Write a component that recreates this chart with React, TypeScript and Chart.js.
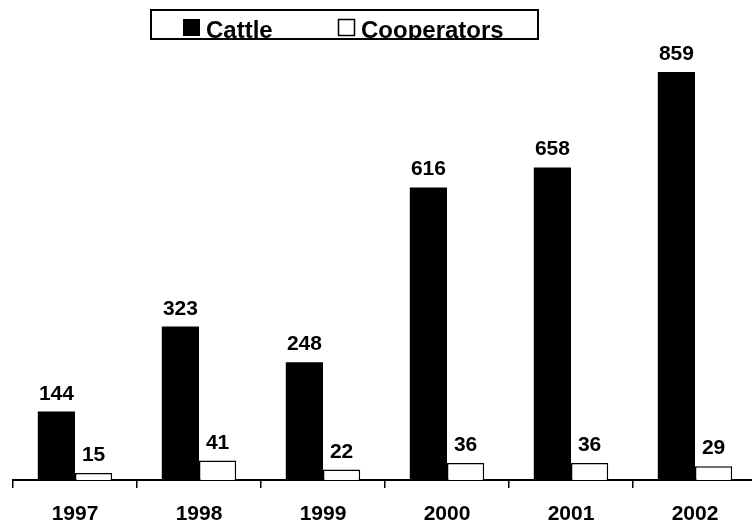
import React, { useEffect, useRef } from "react";
import { Chart, registerables } from "chart.js";

Chart.register(...registerables);

const years = ["1997", "1998", "1999", "2000", "2001", "2002"];
const cattle = [144, 323, 248, 616, 658, 859];
const cooperators = [15, 41, 22, 36, 36, 29];
const seriesNames = ["Cattle", "Cooperators"];

const FONT = '"Liberation Sans", Arial, Helvetica, sans-serif';

const overlayPlugin = {
  id: "overlay",
  afterDraw(chart: any) {
    const ctx = chart.ctx;
    ctx.save();
    // data labels
    ctx.fillStyle = "#000";
    ctx.font = `bold 21px ${FONT}`;
    ctx.textAlign = "center";
    ctx.textBaseline = "alphabetic";
    chart.data.datasets.forEach((ds: any, di: number) => {
      const meta = chart.getDatasetMeta(di);
      meta.data.forEach((bar: any, i: number) => {
        ctx.fillText(String(ds.data[i]), bar.x, bar.y - 12);
      });
    });
    // category labels
    const xs = chart.scales.x;
    years.forEach((y, i) => {
      const x = xs.getPixelForValue(i);
      ctx.fillText(y, x, 520);
    });
    // legend box
    const bx = 151, by = 10, bw = 387, bh = 29;
    ctx.save();
    ctx.beginPath();
    ctx.rect(bx, by, bw, bh);
    ctx.clip();
    ctx.fillStyle = "#fff";
    ctx.fillRect(bx, by, bw, bh);
    ctx.fillStyle = "#000";
    ctx.fillRect(183, 19, 17, 17);
    ctx.strokeStyle = "#000";
    ctx.lineWidth = 1.5;
    ctx.strokeRect(338.5, 19.5, 16, 16);
    ctx.font = `bold 24px ${FONT}`;
    ctx.textAlign = "left";
    ctx.fillText(seriesNames[0], 206, 38);
    ctx.fillText(seriesNames[1], 361, 38);
    ctx.restore();
    ctx.strokeStyle = "#000";
    ctx.lineWidth = 2;
    ctx.strokeRect(bx, by, bw, bh);
    ctx.restore();
  },
};

export default function App() {
  const ref = useRef<HTMLCanvasElement>(null);
  useEffect(() => {
    if (!ref.current) return;
    const chart = new Chart(ref.current, {
      type: "bar",
      data: {
        labels: years,
        datasets: [
          {
            label: seriesNames[0],
            data: cattle,
            backgroundColor: "#000",
            borderColor: "#000",
            borderWidth: 0,
          },
          {
            label: seriesNames[1],
            data: cooperators,
            backgroundColor: "#fff",
            borderColor: "#000",
            borderWidth: 1.5,
          },
        ],
      },
      options: {
        animation: false,
        responsive: false,
        maintainAspectRatio: false,
        devicePixelRatio: 1,
        layout: { padding: { left: 13, right: 3, top: 5, bottom: 0 } },
        plugins: {
          legend: { display: false },
          tooltip: { enabled: false },
          title: { display: false },
        },
        datasets: {
          bar: { categoryPercentage: 0.6, barPercentage: 1.0 },
        },
        scales: {
          x: {
            offset: true,
            grid: {
              display: true,
              drawOnChartArea: false,
              drawTicks: true,
              tickLength: 8,
              color: "#000",
              lineWidth: 1.5,
              offset: true,
            },
            border: { display: true, color: "#000", width: 2 },
            ticks: { display: false },
            afterFit(scale: any) {
              scale.height = 42;
            },
          },
          y: {
            display: false,
            min: 0,
            max: 1000,
          },
        },
      },
      plugins: [overlayPlugin],
    });
    return () => chart.destroy();
  }, []);
  return (
    <div
      style={{
        position: "absolute",
        left: 0,
        top: 0,
        width: 752,
        height: 522,
        overflow: "hidden",
        background: "#fff",
      }}
    >
      <canvas ref={ref} width={760} height={522} style={{ display: "block" }} />
    </div>
  );
}
